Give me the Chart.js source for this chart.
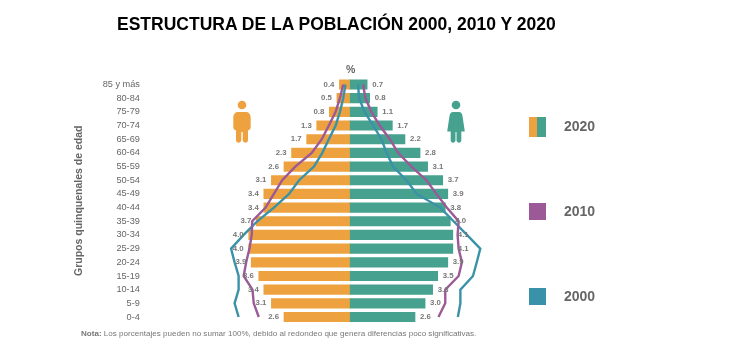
<!DOCTYPE html>
<html lang="es">
<head>
<meta charset="utf-8">
<title>Estructura de la población</title>
<script src="https://cdn.jsdelivr.net/npm/chart.js@4/dist/chart.umd.min.js"></script>
<style>
  html, body { margin: 0; padding: 0; background: #fff; }
  body { width: 750px; height: 352px; position: relative; overflow: hidden; font-family: "Liberation Sans", Arial, sans-serif; }
  canvas { position: absolute; left: 0; top: 0; }
  .abs { position: absolute; white-space: nowrap; }
  #titulo { left: 117px; top: 12px; font-size: 17.5px; line-height: 24px; font-weight: bold; color: #000; }
  #pct { left: 346px; top: 63px; font-size: 10.5px; line-height: 12px; font-weight: bold; color: #666; }
  #nota { left: 81px; top: 328px; font-size: 8.07px; line-height: 12px; color: #777; }
  .caja { position: absolute; left: 529px; width: 17px; }
  .anio { position: absolute; left: 564px; font-size: 14px; line-height: 16px; font-weight: bold; color: #666; }
  svg { position: absolute; }
</style>
</head>
<body>
<canvas id="miGrafico" width="750" height="352"></canvas>

<div class="abs" id="titulo">ESTRUCTURA DE LA POBLACIÓN 2000, 2010 Y 2020</div>
<div class="abs" id="pct">%</div>
<div class="abs" id="nota"><b>Nota:</b> Los porcentajes pueden no sumar 100%, debido al redondeo que genera diferencias poco significativas.</div>

<!-- Leyenda -->
<div class="caja" style="top:117px;height:20px;background:linear-gradient(to right,#eea23f 0 45%,#46a18f 45% 100%)"></div>
<div class="anio" style="top:118px">2020</div>
<div class="caja" style="top:203px;height:17px;background:#9b5a97"></div>
<div class="anio" style="top:203px">2010</div>
<div class="caja" style="top:288px;height:17px;background:#3a92a8"></div>
<div class="anio" style="top:288px">2000</div>

<!-- Iconos -->
<svg style="left:232px;top:99px" width="20" height="46" viewBox="0 0 20 46">
  <circle cx="10" cy="6" r="4.3" fill="#eea23f"/>
  <path d="M6 13h8c3 0 4.7 2.5 4.7 6v9c0 2-1 3-2.7 3.2V41c0 3.5-5 3.5-5.3 0V33h-1.4v8c-.3 3.500-5.300 3.500-5.300 0V31.200C2.300 31 1.300 30 1.300 28v-9C1.300 15.500 3 13 6 13z" fill="#eea23f"/>
</svg>
<svg style="left:446px;top:99px" width="20" height="46" viewBox="0 0 20 46">
  <circle cx="10" cy="6" r="4.300" fill="#46a18f"/>
  <path d="M7 13h6c2 0 3 1.500 3.500 4l2.300 15.500h-3.500V41c0 3.500-4.600 3.500-4.800 0v-8h-1v8c-.2 3.500-4.800 3.500-4.800 0V32.500H1.200L3.500 17C4 14.500 5 13 7 13z" fill="#46a18f"/>
</svg>

<script>
const grupos = ['85 y más', '80-84', '75-79', '70-74', '65-69', '60-64', '55-59', '50-54', '45-49',
                '40-44', '35-39', '30-34', '25-29', '20-24', '15-19', '10-14', '5-9', '0-4'];
const hombres2020 = [0.4, 0.5, 0.8, 1.3, 1.7, 2.3, 2.6, 3.1, 3.4, 3.4, 3.7, 4.0, 4.0, 3.9, 3.6, 3.4, 3.1, 2.6];
const mujeres2020 = [0.7, 0.8, 1.1, 1.7, 2.2, 2.8, 3.1, 3.7, 3.9, 3.8, 4.0, 4.1, 4.1, 3.9, 3.5, 3.3, 3.0, 2.6];
const hombres2010 = [0.25, 0.38, 0.55, 0.82, 1.1, 1.5, 2.15, 2.67, 3.0, 3.33, 3.86, 3.88, 3.97, 4.1, 4.2, 3.85, 3.8, 3.6];
const mujeres2010 = [0.54, 0.63, 0.87, 1.2, 1.6, 1.93, 2.46, 3.05, 3.45, 3.86, 4.33, 4.29, 4.33, 4.46, 4.33, 3.8, 3.8, 3.53];
const hombres2000 = [0.16, 0.25, 0.38, 0.55, 0.82, 1.08, 1.41, 2.0, 2.4, 3.0, 3.66, 4.2, 4.7, 4.56, 4.4, 4.4, 4.56, 4.4];
const mujeres2000 = [0.34, 0.38, 0.6, 0.94, 1.27, 1.47, 1.73, 2.26, 2.67, 3.6, 4.13, 4.66, 5.19, 5.05, 4.9, 4.4, 4.4, 4.3];

const negativo = (lista) => lista.map((v) => -v);

function linea(valores, color) {
    return {
        type: 'line',
        indexAxis: 'y',
        data: valores,
        borderColor: color,
        borderWidth: 2.4,
        pointRadius: 0,
        tension: 0,
        fill: false,
        clip: false,
        order: 1,
    };
}

function barra(valores, color) {
    return {
        type: 'bar',
        data: valores,
        backgroundColor: color,
        barThickness: 9.5,
        grouped: false,
        order: 2,
    };
}

// Etiquetas de valor junto a cada barra
const etiquetas = {
    id: 'etiquetas',
    afterDatasetsDraw(chart) {
        const ctx = chart.ctx;
        const x = chart.scales.x;
        const y = chart.scales.y;
        ctx.save();
        ctx.font = 'bold 7.8px "Liberation Sans", Arial, sans-serif';
        ctx.fillStyle = '#777';
        ctx.textBaseline = 'middle';
        grupos.forEach((g, i) => {
            ctx.textAlign = 'right';
            ctx.fillText(hombres2020[i].toFixed(1), x.getPixelForValue(-hombres2020[i]) - 5, y.getPixelForValue(i));
            ctx.textAlign = 'left';
            ctx.fillText(mujeres2020[i].toFixed(1), x.getPixelForValue(mujeres2020[i]) + 5, y.getPixelForValue(i));
        });
        ctx.restore();
    }
};

new Chart(document.getElementById('miGrafico'), {
    data: {
        labels: grupos,
        datasets: [
            barra(negativo(hombres2020), '#eea23f'),
            barra(mujeres2020, '#46a18f'),
            linea(negativo(hombres2010), '#9b5a97'),
            linea(mujeres2010, '#9b5a97'),
            linea(negativo(hombres2000), '#3a92a8'),
            linea(mujeres2000, '#3a92a8'),
        ],
    },
    options: {
        indexAxis: 'y',
        responsive: false,
        animation: false,
        layout: { padding: { left: 73, right: 198.9, top: 77.66, bottom: 28.16 } },
        plugins: { legend: { display: false }, tooltip: { enabled: false } },
        scales: {
            x: { display: false, min: -8, max: 8 },
            y: {
                grid: { display: false },
                border: { display: false },
                ticks: {
                    color: '#666',
                    padding: 0,
                    autoSkip: false,
                    font: { family: '"Liberation Sans", Arial, sans-serif', size: 9.2 },
                },
                title: {
                    display: true,
                    text: 'Grupos quinquenales de edad',
                    color: '#666',
                    padding: 0,
                    font: { family: '"Liberation Sans", Arial, sans-serif', size: 10.5, weight: 'bold' },
                },
                afterFit(scale) { scale.width = 74.9; },
            },
        },
    },
    plugins: [etiquetas],
});
</script>
</body>
</html>
